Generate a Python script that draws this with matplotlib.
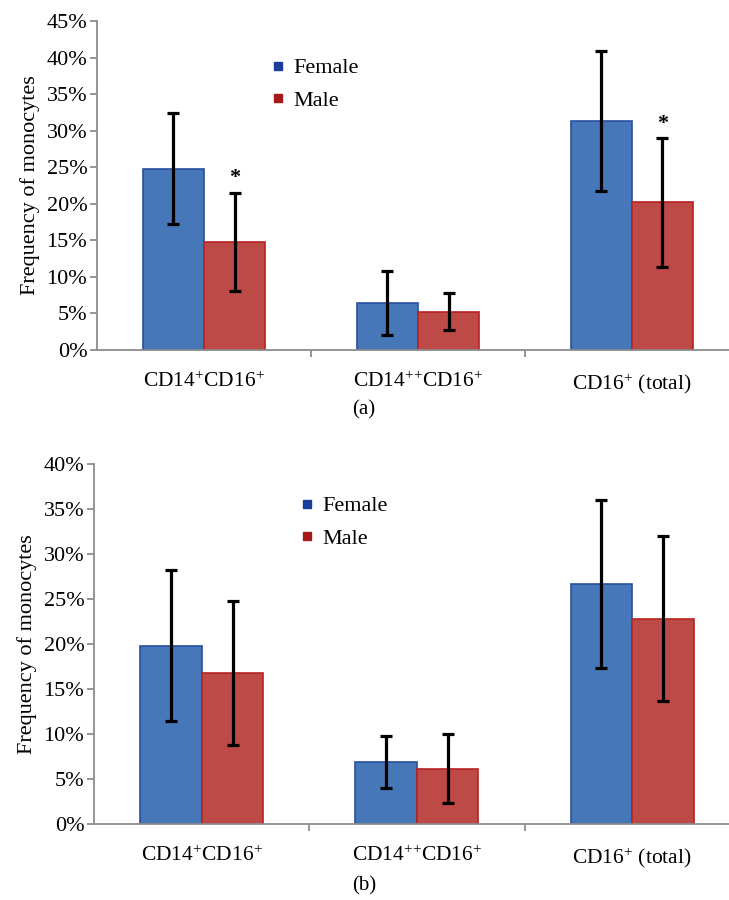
import matplotlib
matplotlib.use("Agg")
import matplotlib.pyplot as plt
from matplotlib.lines import Line2D
from matplotlib.ticker import PercentFormatter
import numpy as np

plt.rcParams["font.family"] = ["Liberation Serif", "DejaVu Serif"]
plt.rcParams["mathtext.fontset"] = "custom"
plt.rcParams["mathtext.rm"] = "Liberation Serif"
plt.rcParams["mathtext.it"] = "Liberation Serif:italic"

categories = [r"CD14$^{+}$CD16$^{+}$", r"CD14$^{{+}{+}}$CD16$^{+}$", r"CD16$^{+}$ (total)"]

# panel (a): monocyte subset frequencies (%)
female_a = [24.8, 6.4, 31.3]
female_a_err = [7.6, 4.4, 9.6]
male_a = [14.8, 5.25, 20.2]
male_a_err = [6.7, 2.5, 8.8]
signif_a = [True, False, True]

# panel (b)
female_b = [19.8, 6.9, 26.7]
female_b_err = [8.4, 2.9, 9.35]
male_b = [16.8, 6.15, 22.8]
male_b_err = [8.0, 3.85, 9.15]
signif_b = [False, False, False]

FEMALE_FILL, FEMALE_EDGE = "#4677b8", "#2a4fa0"
MALE_FILL, MALE_EDGE = "#bd4a47", "#b8231f"
AXIS_GREY = "#8c8c8c"

fig = plt.figure(figsize=(7.29, 9.0), dpi=100)


def draw_panel(ax, female, female_err, male, male_err, signif, ymax, xlim, legend_pos):
    x = np.arange(len(categories))
    w = 0.286
    ax.bar(x - w / 2, female, w, color=FEMALE_FILL, edgecolor=FEMALE_EDGE, linewidth=1.2, zorder=2)
    ax.bar(x + w / 2, male, w, color=MALE_FILL, edgecolor=MALE_EDGE, linewidth=1.2, zorder=2)
    ax.errorbar(x - w / 2, female, yerr=female_err, fmt="none", ecolor="black",
                elinewidth=2.3, capsize=4.5, capthick=2.3, zorder=3)
    ax.errorbar(x + w / 2, male, yerr=male_err, fmt="none", ecolor="black",
                elinewidth=2.3, capsize=4.5, capthick=2.3, zorder=3)
    for xi, m, e, s in zip(x, male, male_err, signif):
        if s:
            ax.text(xi + w / 2, m + e + 0.6, "*", ha="center", va="bottom",
                    fontsize=16, fontweight="bold")

    ax.set_ylim(0, ymax)
    ax.set_xlim(*xlim)
    ax.set_yticks(np.arange(0, ymax + 1, 5))
    ax.yaxis.set_major_formatter(PercentFormatter(decimals=0))
    ax.set_xticks(x)
    ax.set_xticklabels(categories, fontsize=15.5)
    ax.set_xticks([0.5, 1.5], minor=True)
    ax.tick_params(axis="x", which="major", length=0, pad=16)
    ax.tick_params(axis="x", which="minor", length=5, width=1.3, color=AXIS_GREY, direction="out")
    ax.tick_params(axis="y", labelsize=16, length=5, width=1.3, color=AXIS_GREY, pad=2)
    ax.set_ylabel("Frequency of monocytes", fontsize=16, labelpad=5)
    for side in ("top", "right"):
        ax.spines[side].set_visible(False)
    for side in ("left", "bottom"):
        ax.spines[side].set_color(AXIS_GREY)
        ax.spines[side].set_linewidth(1.3)

    handles = [
        Line2D([], [], marker="s", linestyle="none", markersize=6,
               markerfacecolor="#1a3d9c", markeredgecolor="#1a3d9c", label="Female"),
        Line2D([], [], marker="s", linestyle="none", markersize=6,
               markerfacecolor="#a81818", markeredgecolor="#a81818", label="Male"),
    ]
    ax.legend(handles=handles, loc="upper left", bbox_to_anchor=legend_pos, frameon=False,
              fontsize=16, handlelength=0.6, handletextpad=0.4, labelspacing=0.55,
              borderaxespad=0)


ax_a = fig.add_axes([97 / 729, 550 / 900, 632 / 729, 329 / 900])
draw_panel(ax_a, female_a, female_a_err, male_a, male_a_err, signif_a, 45,
           (-0.5, 2.454), (0.262, 0.915))
fig.text(364 / 729, 1 - 410 / 900, "(a)", ha="center", va="center", fontsize=15)

ax_b = fig.add_axes([94 / 729, 76 / 900, 635 / 729, 360 / 900])
draw_panel(ax_b, female_b, female_b_err, male_b, male_b_err, signif_b, 40,
           (-0.502, 2.451), (0.311, 0.936))
fig.text(364 / 729, 1 - 886 / 900, "(b)", ha="center", va="center", fontsize=15)

fig.savefig("out.png", dpi=100)
